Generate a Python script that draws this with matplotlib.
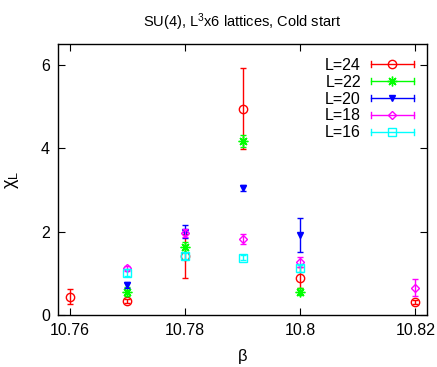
import numpy as np
import matplotlib
matplotlib.use("Agg")
import matplotlib.pyplot as plt
from matplotlib.legend_handler import HandlerBase
from matplotlib.lines import Line2D

plt.rcParams["font.family"] = ["Liberation Sans", "DejaVu Sans"]
plt.rcParams["mathtext.fontset"] = "custom"
plt.rcParams["mathtext.rm"] = "Liberation Sans"
plt.rcParams["mathtext.it"] = "Liberation Sans"

# data per lattice size: beta, chi_L, error
beta_24 = [10.76, 10.77, 10.78, 10.79, 10.80, 10.82]
chi_24 = [0.44, 0.34, 1.41, 4.95, 0.89, 0.30]
err_24 = [0.18, 0.05, 0.52, 0.97, 0.25, 0.05]

beta_22 = [10.77, 10.78, 10.79, 10.80]
chi_22 = [0.56, 1.64, 4.17, 0.56]
err_22 = [0.10, 0.12, 0.15, 0.08]

beta_20 = [10.77, 10.78, 10.79, 10.80]
chi_20 = [0.72, 2.00, 3.05, 1.92]
err_20 = [0.08, 0.15, 0.07, 0.40]

beta_18 = [10.77, 10.78, 10.79, 10.80, 10.82]
chi_18 = [1.12, 1.97, 1.81, 1.28, 0.65]
err_18 = [0.06, 0.10, 0.12, 0.12, 0.20]

beta_16 = [10.77, 10.78, 10.79, 10.80]
chi_16 = [1.01, 1.41, 1.37, 1.12]
err_16 = [0.08, 0.07, 0.06, 0.08]

series = [
    ("L=24", beta_24, chi_24, err_24, "#ff0000", "o", "none", 6),
    ("L=22", beta_22, chi_22, err_22, "#00ff00", (8, 2, 0), "#00ff00", 7),
    ("L=20", beta_20, chi_20, err_20, "#0000ff", "v", "#0000ff", 5),
    ("L=18", beta_18, chi_18, err_18, "#ff00ff", "D", "none", 4.5),
    ("L=16", beta_16, chi_16, err_16, "#00ffff", "s", "none", 5.5),
]


class ErrLineHandler(HandlerBase):
    # gnuplot-style key: horizontal bar with end caps and a marker in the middle
    def __init__(self, color, marker, mfc, ms):
        super().__init__()
        self.color, self.marker, self.mfc, self.ms = color, marker, mfc, ms

    def create_artists(self, legend, orig_handle, xdescent, ydescent,
                       width, height, fontsize, trans):
        y = height / 2 - ydescent
        x0, x1 = -xdescent, width - xdescent
        cap = 2.2
        arts = [
            Line2D([x0, x1], [y, y], color=self.color, lw=1),
            Line2D([x0, x0], [y - cap, y + cap], color=self.color, lw=1),
            Line2D([x1, x1], [y - cap, y + cap], color=self.color, lw=1),
            Line2D([(x0 + x1) / 2], [y], marker=self.marker, ms=self.ms,
                   mfc=self.mfc, mec=self.color, mew=1, ls="none"),
        ]
        for a in arts:
            a.set_transform(trans)
        return arts


fig = plt.figure(figsize=(4.37, 3.67), dpi=100)
ax = fig.add_axes([0.133, 0.142, 0.844, 0.738])

handles, labels, hmap = [], [], {}
for label, b, c, e, col, mk, mfc, ms in series:
    ax.errorbar(b, c, yerr=e, fmt="none", ecolor=col, elinewidth=1,
                capsize=2, capthick=1)
    ax.plot(b, c, ls="none", marker=mk, ms=ms, mfc=mfc, mec=col, mew=1)
    h = Line2D([], [], color=col)
    handles.append(h)
    labels.append(label)
    hmap[h] = ErrLineHandler(col, mk, mfc, ms)

ax.set_xlim(10.758, 10.822)
ax.set_ylim(0, 6.5)
ax.set_xticks([10.76, 10.78, 10.8, 10.82])
ax.set_xticklabels(["10.76", "10.78", "10.8", "10.82"])
ax.set_yticks([0, 2, 4, 6])
ax.tick_params(direction="in", top=True, right=True, length=5,
               labelsize=11.5, pad=6)
for s in ax.spines.values():
    s.set_linewidth(1)

ax.set_title("SU(4), L$^3$x6 lattices, Cold start", fontsize=10.5, pad=12)
ax.set_xlabel("β", fontsize=12, labelpad=8)
ax.set_ylabel("χ$_L$", fontsize=13, labelpad=14)

ax.legend(handles, labels, handler_map=hmap, loc="upper right",
          bbox_to_anchor=(0.99, 0.985), frameon=False, markerfirst=False,
          fontsize=11.5, handlelength=2.7, handletextpad=0.6,
          labelspacing=0.12, borderaxespad=0.2)

fig.savefig("out.png", dpi=100)
